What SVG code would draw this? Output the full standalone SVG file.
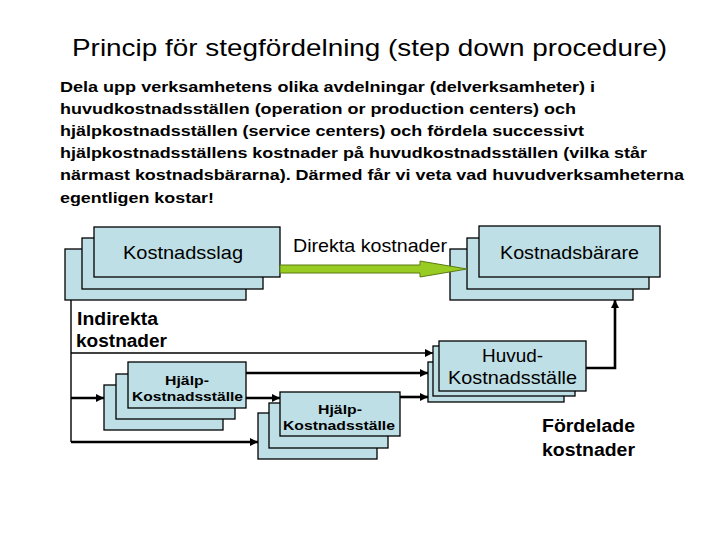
<svg xmlns="http://www.w3.org/2000/svg" width="720" height="540" viewBox="0 0 720 540">
<defs>
<style>
.bx{fill:#BEDFE5;stroke:#000;stroke-width:1.3}
.t{font-family:"Liberation Sans",Arial,sans-serif;fill:#000}
.b{font-weight:bold}
.ln{fill:none;stroke:#000;stroke-width:1.4}
.th{fill:none;stroke:#000;stroke-width:2.6}
</style>
<marker id="ah" viewBox="0 0 10 10" refX="10" refY="5" markerWidth="9" markerHeight="8" markerUnits="userSpaceOnUse" orient="auto">
<path d="M0,0 L10,5 L0,10 Z" fill="#000"/>
</marker>
</defs>
<rect width="720" height="540" fill="#fff"/>
<g id="title">
<text class="t" x="72" y="56" font-size="24" textLength="595" lengthAdjust="spacingAndGlyphs">Princip för stegfördelning (step down procedure)</text>
</g>
<g id="paragraph">
<text class="t b" x="60" y="91.5" font-size="15" textLength="535" lengthAdjust="spacingAndGlyphs">Dela upp verksamhetens olika avdelningar (delverksamheter) i</text>
<text class="t b" x="60" y="113.7" font-size="15" textLength="516" lengthAdjust="spacingAndGlyphs">huvudkostnadsställen (operation or production centers) och</text>
<text class="t b" x="60" y="135.9" font-size="15" textLength="524" lengthAdjust="spacingAndGlyphs">hjälpkostnadsställen (service centers) och fördela successivt</text>
<text class="t b" x="60" y="158.1" font-size="15" textLength="587" lengthAdjust="spacingAndGlyphs">hjälpkostnadsställens kostnader på huvudkostnadsställen (vilka står</text>
<text class="t b" x="60" y="180.3" font-size="15" textLength="624" lengthAdjust="spacingAndGlyphs">närmast kostnadsbärarna). Därmed får vi veta vad huvudverksamheterna</text>
<text class="t b" x="60" y="202.5" font-size="15" textLength="154" lengthAdjust="spacingAndGlyphs">egentligen kostar!</text>
</g>
<g id="kostnadsslag">
<rect class="bx" x="65" y="249" width="181" height="51"/>
<rect class="bx" x="82" y="238" width="181" height="51"/>
<rect class="bx" x="94" y="227" width="186" height="50"/>
<text class="t" x="123" y="259" font-size="18.5" textLength="120" lengthAdjust="spacingAndGlyphs">Kostnadsslag</text>
</g>
<g id="kostnadsbarare">
<rect class="bx" x="450" y="249" width="183" height="51"/>
<rect class="bx" x="467" y="238" width="182" height="51"/>
<rect class="bx" x="479" y="226" width="181" height="51"/>
<text class="t" x="500" y="259" font-size="18.5" textLength="139" lengthAdjust="spacingAndGlyphs">Kostnadsbärare</text>
</g>
<g id="huvud">
<rect class="bx" x="428" y="362" width="136" height="40"/>
<rect class="bx" x="433" y="346" width="142" height="50"/>
<rect class="bx" x="439" y="341" width="147" height="50"/>
<text class="t" x="482" y="362" font-size="18.5" textLength="61" lengthAdjust="spacingAndGlyphs">Huvud-</text>
<text class="t" x="448" y="384" font-size="18.5" textLength="129" lengthAdjust="spacingAndGlyphs">Kostnadsställe</text>
</g>
<g id="hjalp1">
<rect class="bx" x="104" y="385" width="119" height="45"/>
<rect class="bx" x="116" y="374" width="119" height="45"/>
<rect class="bx" x="128" y="362" width="118" height="46"/>
<text class="t b" x="165" y="385" font-size="13.5" textLength="44" lengthAdjust="spacingAndGlyphs">Hjälp-</text>
<text class="t b" x="132" y="401" font-size="13.5" textLength="111" lengthAdjust="spacingAndGlyphs">Kostnadsställe</text>
</g>
<g id="hjalp2">
<rect class="bx" x="258" y="413" width="119" height="46"/>
<rect class="bx" x="269" y="403" width="119" height="45"/>
<rect class="bx" x="280" y="392" width="120" height="44"/>
<text class="t b" x="318" y="413.5" font-size="13.5" textLength="44" lengthAdjust="spacingAndGlyphs">Hjälp-</text>
<text class="t b" x="283" y="429.5" font-size="13.5" textLength="112" lengthAdjust="spacingAndGlyphs">Kostnadsställe</text>
</g>
<g id="labels">
<text class="t" x="293" y="252" font-size="18.5" textLength="154" lengthAdjust="spacingAndGlyphs">Direkta kostnader</text>
<text class="t b" x="77" y="325" font-size="18" textLength="81" lengthAdjust="spacingAndGlyphs">Indirekta</text>
<text class="t b" x="76" y="347" font-size="18" textLength="91" lengthAdjust="spacingAndGlyphs">kostnader</text>
<text class="t b" x="542" y="432" font-size="18" textLength="93" lengthAdjust="spacingAndGlyphs">Fördelade</text>
<text class="t b" x="542" y="456" font-size="18" textLength="93" lengthAdjust="spacingAndGlyphs">kostnader</text>
</g>
<g id="connectors">
<path d="M280,265 H420 V261 L467,269 L420,277 V273 H280 Z" fill="#99CC22" stroke="#5C7A10" stroke-width="1"/>
<path class="ln" d="M71,300 V442"/>
<path class="ln" d="M71,353 H433" marker-end="url(#ah)"/>
<path class="th" d="M71,398 H104" marker-end="url(#ah)"/>
<path class="th" d="M71,442 H258" marker-end="url(#ah)"/>
<path class="th" d="M246,373 H428" marker-end="url(#ah)"/>
<path class="th" d="M246,398 H280" marker-end="url(#ah)"/>
<path class="th" d="M400,397 H428" marker-end="url(#ah)"/>
<path class="th" d="M586,368 H615 V300" marker-end="url(#ah)"/>
</g>
</svg>
